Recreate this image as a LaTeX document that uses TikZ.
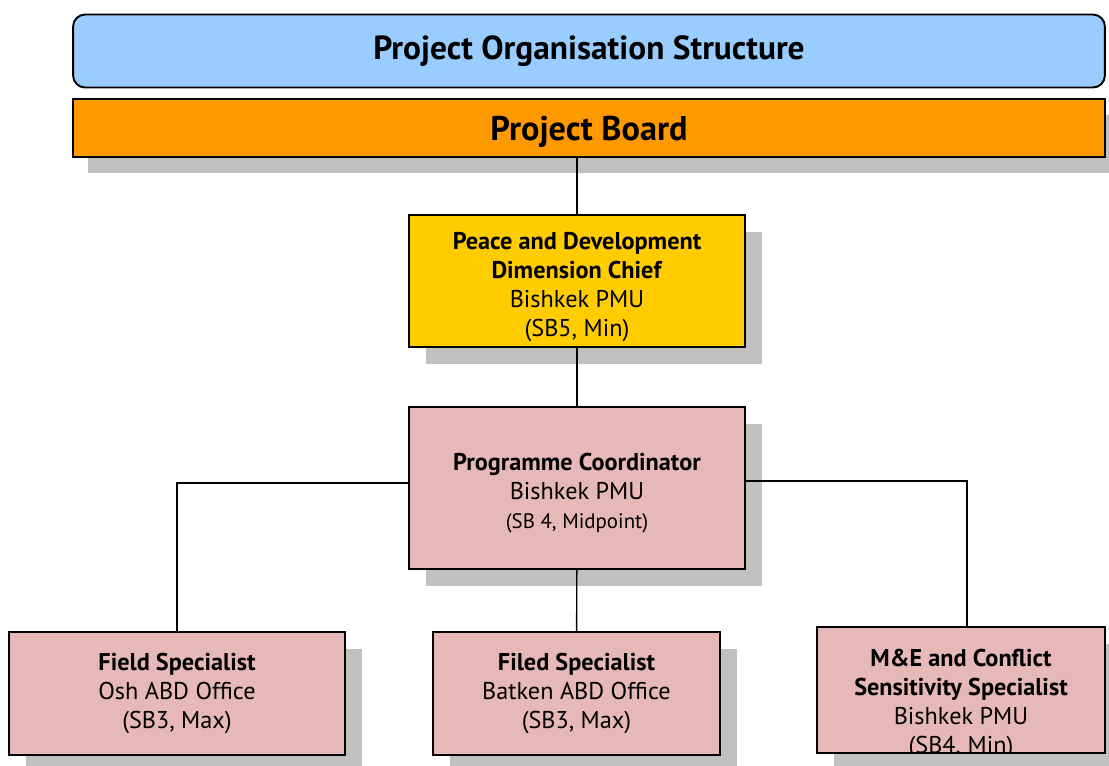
\documentclass[tikz,border=0pt]{standalone}
\usepackage{fontspec}
\setmainfont{PT Sans}
\usetikzlibrary{shadows}
\definecolor{headblue}{HTML}{99CCFF}
\definecolor{boardorange}{HTML}{FF9900}
\definecolor{chiefgold}{HTML}{FFCC00}
\definecolor{staffrose}{HTML}{E6B8B7}
\definecolor{shadowgrey}{HTML}{C0C0C0}
\begin{document}
\begin{tikzpicture}[x=0.02cm,y=-0.02cm,
    box/.style={draw=black, line width=1.1pt, align=center, inner sep=0pt, outer sep=0pt},
    greyshadow/.style={drop shadow={shadow xshift=0.34cm, shadow yshift=-0.34cm, fill=shadowgrey, opacity=1}},
    rolefont/.style={font=\fontsize{13.8}{16.6}\selectfont},
    staffbox/.style={box, greyshadow, fill=staffrose, rolefont},
    link/.style={draw=black, line width=0.8pt}]
  \useasboundingbox (0,0) rectangle (1109,765);
  % Cabecalho e conselho
  \node[box, fill=headblue, rounded corners=0.24cm, minimum width=20.64cm, minimum height=1.46cm,
        font=\fontsize{19}{22}\selectfont\bfseries] (title) at (589,51) {Project Organisation Structure};
  \node[box, fill=boardorange, minimum width=20.64cm, minimum height=1.16cm, text depth=0pt,
        drop shadow={shadow xshift=0.3cm, shadow yshift=-0.32cm, fill=shadowgrey, opacity=1},
        font=\fontsize{19.5}{22}\selectfont\bfseries] (board) at (589,128) {Project Board};
  % Chefia e coordenacao
  \node[box, greyshadow, fill=chiefgold, rolefont, minimum width=6.72cm, minimum height=2.64cm]
        (chief) at (577,281) {};
  \node[rolefont, align=center] (chieftext) at (577,287)
        {\textbf{Peace and Development}\\\textbf{Dimension Chief}\\Bishkek PMU\\(SB5, Min)};
  \node[staffbox, minimum width=6.72cm, minimum height=3.24cm] (coord) at (577,488) {};
  \node[rolefont, align=center] (coordtext) at (577,493)
        {\textbf{Programme Coordinator}\\Bishkek PMU\\{\fontsize{11.9}{14}\selectfont(SB 4, Midpoint)}};
  % Especialistas
  \node[staffbox, minimum width=6.72cm, minimum height=2.46cm] (field) at (177,693.5)
        {\textbf{Field Specialist}\\Osh ABD Office\\(SB3, Max)};
  \node[staffbox, minimum width=5.74cm, minimum height=2.46cm] (filed) at (576.5,693.5)
        {\textbf{Filed Specialist}\\Batken ABD Office\\(SB3, Max)};
  \node[staffbox, minimum width=5.76cm, minimum height=2.52cm] (me) at (961,690) {};
  \begin{scope}
    \clip (me.north west) rectangle (me.south east);
    \node[rolefont, align=center] (metext) at (961,704)
          {\textbf{M\&E and Conflict}\\\textbf{Sensitivity Specialist}\\Bishkek PMU\\(SB4, Min)};
  \end{scope}
  \draw[line width=1.1pt] (me.north west) rectangle (me.south east);
  % Ligacoes
  \draw[link] (chief.north) -- (chief.north |- board.south);
  \draw[link] (chief) -- (coord);
  \draw[link] (coord) -- (filed);
  \draw[link] ([yshift=0.1cm]coord.west) -| (field.north);
  \draw[link] ([yshift=0.14cm]coord.east) -| ([xshift=0.12cm]me.north);
\end{tikzpicture}
\end{document}
